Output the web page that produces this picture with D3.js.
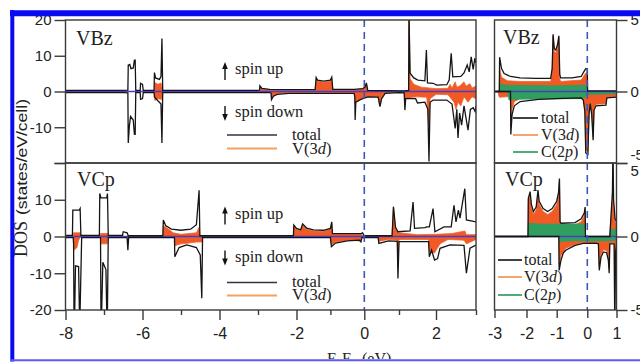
<!DOCTYPE html>
<html>
<head>
<meta charset="utf-8">
<script src="https://cdn.jsdelivr.net/npm/d3@7"></script>
<style>
  body { margin: 0; background: #fff; }
  svg { display: block; }
</style>
</head>
<body>
<svg id="chart" width="640" height="363"></svg>
<script>
// ---- DOS data, [E - EF (eV), states/eV/cell] ----
// full range panels (-8 .. 3 eV)
const bzTotUp = [[-8,0.3],[-6.5,0.3],[-6.38,0.4],[-6.37,7.4],[-6.33,7.6],[-6.3,6.4],[-6.24,6.6],[-6.21,8.8],[-6.19,8.8],[-6.175,0.3],
  [-6.06,0.3],[-6.05,2.3],[-6.0,2.0],[-5.98,0.3],[-5.7,0.3],[-5.69,5.3],[-5.66,3.8],[-5.56,3.4],[-5.52,4.2],[-5.495,14.8],[-5.475,0.3],
  [-3.0,0.3],[-2.96,0.4],[-2.95,1.6],[-2.9,0.9],[-2.7,0.6],[-2.3,0.5],[-1.45,0.5],[-1.42,3.9],[-1.38,3.2],[-1.2,2.9],[-1.0,3.2],[-0.96,4.0],
  [-0.93,0.6],[-0.3,0.6],[-0.05,0.8],[0.02,1.2],[0.06,2.4],[0.1,0.3],[1.15,0.2],[1.26,0.3],[1.27,22],[1.3,5.1],[1.4,3.8],[1.51,3.2],[1.7,3.0],
  [1.74,11.6],[1.77,2.4],[1.92,2.3],[2.02,1.8],[2.27,1.9],[2.33,3.2],[2.38,10.7],[2.42,4.1],[2.62,4.2],[2.7,5.2],[2.78,7.4],[2.83,5.5],
  [2.88,9.7],[2.93,6.2],[2.97,9.3],[3,8]];
const bzTotDn = [[-8,-0.3],[-6.5,-0.3],[-6.38,-0.4],[-6.37,-14.4],[-6.34,-9.5],[-6.31,-7],[-6.24,-8],[-6.21,-12],[-6.19,-12],[-6.175,-0.3],
  [-6.06,-0.3],[-6.05,-2.2],[-6.0,-2.0],[-5.98,-0.3],[-5.7,-0.3],[-5.69,-1.5],[-5.6,-2.6],[-5.52,-3.5],[-5.495,-14.4],[-5.475,-0.3],
  [-2.7,-0.3],[-2.66,-0.4],[-2.65,-2.3],[-2.6,-1.3],[-2.5,-0.8],[-2.2,-0.5],[-0.3,-0.5],[-0.28,-1.5],[-0.27,-8],[-0.25,-3.0],[-0.1,-2.2],
  [0.1,-1.5],[0.4,-1.6],[0.45,-4.2],[0.5,-2.0],[0.6,-0.5],[1.0,-0.3],[1.14,-0.4],[1.16,-5.2],[1.18,-2.0],[1.3,-1.9],[1.45,-2.0],[1.5,-3.2],
  [1.7,-3.0],[1.78,-5],[1.81,-19.6],[1.84,-3],[1.92,-2.4],[2.27,-2.4],[2.4,-3.5],[2.48,-10.3],[2.52,-5],[2.55,-13],[2.59,-6],[2.64,-9.4],
  [2.7,-4],[2.8,-10.8],[2.86,-5],[2.93,-4.5],[2.98,-5.6],[3,-4]];
const bzVdUp = [[-8,0],[-5.69,0],[-5.68,2.5],[-5.6,2.0],[-5.52,2.4],[-5.49,1.0],[-5.475,0],[-2.96,0],[-2.95,1.3],[-2.9,0.7],[-2.7,0.4],
  [-2.3,0.3],[-1.45,0.3],[-1.42,3.6],[-1.38,2.9],[-1.2,2.6],[-1.0,2.9],[-0.96,3.7],[-0.93,0.4],[-0.3,0.4],[0.02,0.9],[0.06,2.2],[0.1,0],
  [1.15,0],[1.26,0.2],[1.27,22],[1.3,3.6],[1.4,2.0],[1.6,1.2],[2.0,0.8],[2.3,0.9],[2.35,2.0],[2.4,1.0],[2.48,2.7],[2.52,1.2],[2.6,1.6],
  [2.7,2.7],[2.75,1.5],[2.85,2.2],[2.9,1.0],[3,1.5]];
const bzVdDn = [[-8,0],[-5.69,0],[-5.68,-2.5],[-5.6,-2.0],[-5.5,-2.2],[-5.475,0],[-2.66,0],[-2.65,-2.0],[-2.6,-1.1],[-2.5,-0.6],[-2.2,-0.3],
  [-0.3,-0.3],[-0.28,-1.2],[-0.27,-3.5],[-0.25,-2.8],[-0.1,-2.0],[0.1,-1.4],[0.4,-1.5],[0.45,-4.0],[0.5,-1.8],[0.6,-0.3],[1.0,-0.2],
  [1.14,-0.2],[1.16,-2.0],[1.3,-1.6],[1.5,-1.5],[1.75,-1.6],[1.8,-9.4],[1.84,-2],[2.0,-0.8],[2.3,-0.9],[2.45,-3],[2.5,-5],[2.55,-3],
  [2.62,-4],[2.7,-1.5],[2.8,-3],[2.9,-1.5],[3,-2]];

const cpTotUp = [[-8,0.3],[-7.82,0.3],[-7.81,7.2],[-7.64,7.2],[-7.62,7.6],[-7.6,0.3],[-7.12,0.3],[-7.11,11.7],[-7.08,10.5],[-6.93,10.5],
  [-6.91,11.7],[-6.89,0.3],[-6.52,0.3],[-6.5,1.3],[-6.4,1.0],[-6.37,0.2],[-5.47,0.2],[-5.46,4.5],[-5.4,3.0],[-5.25,2.0],[-5.0,1.7],
  [-4.75,2.0],[-4.6,3.2],[-4.53,12.6],[-4.51,0.2],[-2.08,0.2],[-2.07,3.1],[-2.0,2.2],[-1.88,1.8],[-1.82,3.4],[-1.7,2.3],[-1.5,1.8],
  [-1.2,1.7],[-1.0,2.2],[-0.96,4.0],[-0.94,0.8],[-0.1,0.8],[-0.05,1.0],[0,0.2],[0.8,0.2],[0.84,8.1],[0.9,2.5],[0.97,1.3],[1.3,1.5],
  [1.38,9.4],[1.42,2.2],[1.7,2.4],[1.75,2.6],[1.82,2.6],[1.92,7.6],[1.97,1.3],[2.2,2.6],[2.38,2.6],[2.45,8.5],[2.5,4],[2.56,7.2],
  [2.6,5],[2.72,13],[2.76,4.5],[3,4]];
const cpTotDn = [[-8,-0.3],[-7.8,-0.3],[-7.79,-2],[-7.78,-20],[-7.76,-20],[-7.74,-8],[-7.66,-8.2],[-7.64,-20],[-7.62,-20],[-7.6,-10],
  [-7.58,-0.3],[-7.09,-0.3],[-7.08,-20],[-7.06,-20],[-7.03,-7],[-6.95,-9],[-6.93,-20],[-6.91,-20],[-6.89,-0.3],[-6.4,-0.3],[-6.38,-3.7],
  [-6.36,-0.3],[-5.17,-0.3],[-5.16,-5.5],[-5.05,-3.0],[-4.85,-2.3],[-4.6,-3.0],[-4.5,-5],[-4.46,-16.8],[-4.44,-0.3],[-1.0,-0.3],
  [-0.97,-2.8],[-0.85,-1.8],[-0.5,-1.2],[-0.15,-1.0],[-0.1,-1.5],[-0.07,-0.3],[0.4,-0.3],[0.42,-1.9],[0.7,-1.2],[0.95,-1.3],[0.97,-11.4],
  [1.0,-1.4],[1.8,-1.4],[1.82,-5.5],[1.88,-3.7],[1.96,-6.4],[2.04,-6],[2.1,-3.2],[2.35,-2.3],[2.7,-2.4],[2.76,-10],[2.85,-3.2],[3,-2.3]];
const cpVdUp = [[-8,0],[-7.8,0],[-7.79,1.0],[-7.62,1.0],[-7.6,0],[-7.1,0],[-7.09,0.8],[-6.9,0.8],[-6.89,0],[-5.47,0],[-5.46,3.0],
  [-5.35,2.2],[-5.2,1.0],[-5.0,0.6],[-4.6,1.0],[-4.53,2.5],[-4.51,0],[-2.08,0],[-2.07,2.7],[-2.0,1.9],[-1.88,1.5],[-1.82,3.0],[-1.7,2.0],
  [-1.5,1.5],[-1.2,1.4],[-1.0,1.9],[-0.96,3.5],[-0.94,0.6],[-0.1,0.6],[0,0],[0.8,0],[0.84,8.1],[0.9,2.0],[1.0,1.0],[1.5,0.5],[2.0,0.6],
  [2.4,0.8],[2.72,1.5],[2.76,0.5],[3,0.5]];
const cpVdDn = [[-8,0],[-7.79,0],[-7.78,-3.7],[-7.7,-3.0],[-7.66,-1],[-7.6,0],[-7.08,0],[-7.07,-2],[-6.92,-2],[-6.89,0],[-5.17,0],
  [-5.16,-2.5],[-5.0,-2.0],[-4.8,-1.8],[-4.6,-1.5],[-4.46,-1.5],[-4.44,0],[-1.0,0],[-0.97,-2.3],[-0.85,-1.5],[-0.5,-1.0],[-0.1,-1.2],
  [-0.07,0],[0.4,0],[0.42,-1.3],[0.7,-0.8],[0.95,-1.0],[0.97,-8],[1.0,-0.8],[1.8,-0.8],[1.82,-4],[1.96,-4.5],[2.1,-2],[2.3,-0.8],
  [2.7,-1],[2.76,-2],[3,-0.8]];

// close-up panels (-3 .. 1 eV)
const zbzTotUp = [[-3,0],[-2.85,0],[-2.84,2.4],[-2.78,1.6],[-2.7,1.25],[-2.5,1.05],[-2.2,0.95],[-1.7,0.92],[-1.2,0.92],[-1.15,1.6],
  [-1.12,4.0],[-1.08,3.0],[-1.03,2.9],[-0.97,3.3],[-0.93,3.9],[-0.9,1.2],[-0.87,0.95],[-0.5,0.95],[-0.2,1.05],[-0.12,1.35],
  [-0.05,1.6],[0.0,1.6],[0.01,0.05],[1,0.05]];
const zbzTotDn = [[-3,0],[-2.5,0],[-2.49,-3.0],[-2.45,-1.6],[-2.38,-1.0],[-2.2,-0.7],[-1.6,-0.55],[-0.8,-0.48],[-0.2,-0.45],[-0.13,-0.6],
  [-0.08,-1.4],[-0.05,-4.3],[0.02,-4.4],[0.06,-1.6],[0.1,-0.85],[0.15,-1.6],[0.2,-3.4],[0.23,-1.3],[0.3,-1.0],[0.64,-0.95],[0.67,-0.45],[1,-0.4]];
const zbzVdUp = [[-3,0],[-2.85,0],[-2.84,1.6],[-2.78,1.0],[-2.6,0.75],[-2.2,0.7],[-1.2,0.7],[-1.15,1.4],[-1.12,3.9],[-1.08,2.8],
  [-1.03,2.7],[-0.97,3.1],[-0.93,3.8],[-0.9,0.9],[-0.87,0.7],[-0.2,0.8],[-0.05,1.3],[0,1.3],[0.01,0],[1,0]];
const zbzVdDn = [[-3,0],[-2.9,0],[-2.85,-0.4],[-2.5,-0.35],[-2.49,-2.5],[-2.45,-1.2],[-2.38,-0.7],[-2.2,-0.5],[-1.6,-0.45],[-0.2,-0.4],
  [-0.13,-0.55],[-0.08,-1.3],[-0.05,-4.1],[0.02,-4.2],[0.06,-1.4],[0.1,-0.75],[0.15,-1.4],[0.2,-3.2],[0.23,-1.2],[0.3,-0.9],
  [0.64,-0.85],[0.67,-0.4],[1,-0.35]];
const zbzCpUp = [[-3,0],[-2.85,0],[-2.84,0.6],[-2.7,0.45],[-1.0,0.4],[-0.1,0.45],[0,0.4],[0.01,0],[1,0]];
const zbzCpDn = [[-3,0],[-2.6,0],[-2.55,-0.6],[-2.3,-0.55],[-0.2,-0.5],[-0.1,-0.45],[0,-0.2],[0.3,-0.2],[1,-0.15]];

const zcpTotUp = [[-3,0],[-1.95,0],[-1.94,2.6],[-1.88,3.05],[-1.84,2.2],[-1.77,1.7],[-1.68,2.0],[-1.62,3.15],[-1.58,2.4],[-1.45,1.9],
  [-1.3,1.7],[-1.15,1.9],[-1.0,2.4],[-0.94,3.0],[-0.91,3.95],[-0.89,1.0],[-0.86,0.9],[-0.4,0.95],[-0.2,1.2],[-0.1,1.6],[-0.07,2.0],
  [-0.06,0],[0.77,0],[0.8,1.0],[0.86,3],[0.88,6],[0.9,2.5],[0.95,1.2],[1,1]];
const zcpTotDn = [[-3,0],[-0.93,0],[-0.92,-2.3],[-0.86,-1.6],[-0.78,-1.1],[-0.69,-0.92],[-0.4,-0.6],[-0.13,-0.47],[0.3,-0.45],[0.38,-0.5],
  [0.41,-2.3],[0.47,-1.4],[0.55,-1.05],[0.66,-1.1],[0.72,-1.6],[0.75,-2.5],[0.77,-0.5],[0.92,-0.5],[0.94,-6],[0.97,-1],[1,-0.6]];
const zcpVdUp = [[-3,0],[-1.95,0],[-1.94,2.4],[-1.88,2.9],[-1.84,2.0],[-1.77,1.5],[-1.68,1.8],[-1.62,3.0],[-1.58,2.2],[-1.45,1.7],
  [-1.3,1.5],[-1.15,1.7],[-1.0,2.2],[-0.94,2.8],[-0.91,3.8],[-0.89,0.8],[-0.86,0.75],[-0.4,0.8],[-0.2,1.0],[-0.1,1.4],[-0.07,1.9],
  [-0.06,0],[0.77,0],[0.8,0.9],[0.86,2.5],[0.88,6],[0.9,2],[0.95,1],[1,0.9]];
const zcpVdDn = [[-3,0],[-0.93,0],[-0.92,-1.9],[-0.86,-1.3],[-0.7,-0.8],[-0.4,-0.55],[-0.13,-0.42],[0.3,-0.4],[0.38,-0.45],[0.41,-2.0],
  [0.47,-1.2],[0.55,-0.9],[0.66,-0.95],[0.72,-1.4],[0.75,-2.2],[0.77,-0.45],[0.92,-0.45],[0.94,-6],[0.97,-0.8],[1,-0.5]];
const zcpCpUp = [[-3,0],[-1.95,0],[-1.94,0.9],[-1.5,0.85],[-0.5,0.85],[-0.1,0.85],[-0.06,0],[0.77,0],[0.8,0.5],[1,0.5]];
const zcpCpDn = [[-3,0],[-0.93,0],[-0.92,-0.35],[-0.5,-0.3],[0.8,-0.3],[1,-0.25]];

// ticks
const xMajorL = [-8, -6, -4, -2, 0, 2];
const xMinorL = [-7, -5, -3, -1, 1, 3];
const xTicksR = [-3, -2, -1, 0, 1];
const yTicksL = [20, 10, 0, -10, -20];
const yTicksR = [5, 0, -5];

const serif = "'Liberation Serif', 'Times New Roman', serif";
const sans = "'Liberation Sans', Arial, sans-serif";
const orange = "#f15a24", green = "#2f9e5e";

const svg = d3.select("#chart");

// scales (the printed axis is slightly uneven, so piecewise)
const xL = d3.scaleLinear().domain([-8, -2, 0, 1, 2, 3]).range([65.5, 296.5, 364.3, 399, 436, 476]);
const xR = d3.scaleLinear().domain([-3, -2, -1, 0, 1]).range([494.5, 526.5, 556.7, 587.3, 616.5]);
const yTL = d3.scaleLinear().domain([-20, 20]).range([163, 20]);
const yBL = d3.scaleLinear().domain([-20, 20]).range([310, 163]);
const yTR = d3.scaleLinear().domain([-5, 5]).range([163, 20]);
const yBR = d3.scaleLinear().domain([-5, 5]).range([310, 163]);

function panel(name, x, y, s) {
  const xr = x.range(), x0 = xr[0], x1 = xr[xr.length - 1];
  const [yb, yt] = y.range();
  svg.append("clipPath").attr("id", "clip-" + name)
    .append("rect").attr("x", x0).attr("y", yt).attr("width", x1 - x0).attr("height", yb - yt);
  const g = svg.append("g").attr("clip-path", "url(#clip-" + name + ")");
  const area = d3.area().x(d => x(d[0])).y0(y(0)).y1(d => y(d[1]));
  const line = d3.line().x(d => x(d[0])).y(d => y(d[1]));

  [s.vdUp, s.vdDn].forEach(d => g.append("path").datum(d).attr("d", area)
    .attr("fill", orange).attr("stroke", "#ee6630").attr("stroke-width", 0.8));
  if (s.cpUp) [s.cpUp, s.cpDn].forEach(d => g.append("path").datum(d).attr("d", area)
    .attr("fill", green).attr("stroke", green).attr("stroke-width", 0.6));

  g.append("line").attr("x1", x0).attr("x2", x1).attr("y1", y(0)).attr("y2", y(0))
    .attr("stroke", "#4a3cc6").attr("stroke-width", 1.6);

  [s.totUp, s.totDn].forEach(d => g.append("path").datum(d).attr("d", line)
    .attr("fill", "none").attr("stroke", "#151515").attr("stroke-width", 1.3));

  g.append("line").attr("x1", x(0)).attr("x2", x(0)).attr("y1", yt).attr("y2", yb)
    .attr("stroke", "#3a58b8").attr("stroke-width", 1.6).attr("stroke-dasharray", "7,5");

  svg.append("rect").attr("x", x0).attr("y", yt).attr("width", x1 - x0).attr("height", yb - yt)
    .attr("fill", "none").attr("stroke", "#3a3a3a").attr("stroke-width", 1.4);
}

panel("bzL", xL, yTL, {totUp: bzTotUp, totDn: bzTotDn, vdUp: bzVdUp, vdDn: bzVdDn});
panel("cpL", xL, yBL, {totUp: cpTotUp, totDn: cpTotDn, vdUp: cpVdUp, vdDn: cpVdDn});
panel("bzR", xR, yTR, {totUp: zbzTotUp, totDn: zbzTotDn, vdUp: zbzVdUp, vdDn: zbzVdDn, cpUp: zbzCpUp, cpDn: zbzCpDn});
panel("cpR", xR, yBR, {totUp: zcpTotUp, totDn: zcpTotDn, vdUp: zcpVdUp, vdDn: zcpVdDn, cpUp: zcpCpUp, cpDn: zcpCpDn});

// axes
function styleAxis(g, size) {
  g.select(".domain").remove();
  g.selectAll(".tick line").attr("stroke", "#3a3a3a").attr("stroke-width", 1.4);
  g.selectAll(".tick text").attr("fill", "#222").attr("font-family", sans).attr("font-size", size);
}
const label = skip => d => (skip.includes(d) ? "" : String(d));

svg.append("g").attr("transform", "translate(65.5,0)")
  .call(d3.axisLeft(yTL).tickValues(yTicksL).tickSize(11).tickPadding(3).tickFormat(label([-20])))
  .call(g => styleAxis(g, 15));
svg.append("g").attr("transform", "translate(65.5,0)")
  .call(d3.axisLeft(yBL).tickValues(yTicksL).tickSize(11).tickPadding(3).tickFormat(label([20])))
  .call(g => styleAxis(g, 15));

svg.append("g").attr("transform", "translate(0,310)")
  .call(d3.axisBottom(xL).tickValues(xMajorL).tickSize(10).tickPadding(8).tickFormat(label([])))
  .call(g => styleAxis(g, 16));
svg.append("g").attr("transform", "translate(0,310)")
  .call(d3.axisBottom(xL).tickValues(xMinorL).tickSize(5).tickFormat(""))
  .call(g => styleAxis(g, 16));
svg.append("g").attr("transform", "translate(0,310)")
  .call(d3.axisBottom(xR).tickValues(xTicksR).tickSize(8).tickPadding(10).tickFormat(label([])))
  .call(g => styleAxis(g, 16));

svg.append("g").attr("transform", "translate(616.5,0)")
  .call(d3.axisRight(yTR).tickValues(yTicksR).tickSize(11).tickPadding(3).tickFormat(label([])))
  .call(g => styleAxis(g, 15))
  .call(g => g.selectAll(".tick text").filter(d => d === -5).attr("dy", "-0.25em"));
svg.append("g").attr("transform", "translate(616.5,0)")
  .call(d3.axisRight(yBR).tickValues(yTicksR).tickSize(11).tickPadding(3).tickFormat(label([])))
  .call(g => styleAxis(g, 15))
  .call(g => g.selectAll(".tick text").filter(d => d === 5).attr("dy", "0.85em"));

// axis titles
svg.append("text").attr("transform", "translate(27,257) rotate(-90)")
  .attr("font-family", serif).attr("font-size", 18).attr("fill", "#222").text("DOS");
svg.append("text").attr("transform", "translate(27,215) rotate(-90)")
  .attr("font-family", sans).attr("font-size", 15).attr("fill", "#222")
  .attr("textLength", 116).attr("lengthAdjust", "spacingAndGlyphs").text("(states/eV/cell)");

svg.append("clipPath").attr("id", "clip-xt").append("rect").attr("x", 0).attr("y", 0).attr("width", 640).attr("height", 359);
const xt = svg.append("text").attr("clip-path", "url(#clip-xt)").attr("x", 327).attr("y", 364)
  .attr("font-family", serif).attr("font-size", 16).attr("fill", "#222");
xt.append("tspan").text("E-E");
xt.append("tspan").attr("font-size", 11).attr("dy", 3).text("F");
xt.append("tspan").attr("dy", -3).text(" (eV)");

// panel names
[["VBz", 76, 45], ["VCp", 77, 186], ["VBz", 503, 44], ["VCp", 505, 186]].forEach(([t, x, y]) =>
  svg.append("text").attr("x", x).attr("y", y).attr("font-family", serif).attr("font-size", 20)
    .attr("fill", "#222").text(t));

// spin arrows and labels (left panels)
function arrow(x, tail, tip) {
  const dir = tip < tail ? 1 : -1;
  svg.append("line").attr("x1", x).attr("x2", x).attr("y1", tail).attr("y2", tip + dir * 5)
    .attr("stroke", "#111").attr("stroke-width", 1.4);
  svg.append("path").attr("d", `M${x},${tip}L${x - 2.8},${tip + dir * 7}L${x + 2.8},${tip + dir * 7}Z`).attr("fill", "#111");
}
function txt(x, y, parts, size) {
  const t = svg.append("text").attr("x", x).attr("y", y).attr("font-family", serif)
    .attr("font-size", size).attr("fill", "#222");
  parts.forEach(p => t.append("tspan").attr("font-style", p[1] ? "italic" : null).text(p[0]));
}
[[0, 0], [1, 144.5]].forEach(([i, dy]) => {
  arrow(225, 80 + dy, 62 + dy);
  txt(235, 74 + dy, [["spin up"]], 16.5);
  arrow(225, 106 + dy, 121 + dy);
  txt(235, 117 + dy, [["spin down"]], 16.5);
});
[[135, 140, 148.5, 154], [282.5, 287, 295.5, 300]].forEach(([l1, t1, l2, t2]) => {
  svg.append("line").attr("x1", 227).attr("x2", 277).attr("y1", l1).attr("y2", l1).attr("stroke", "#2d3440").attr("stroke-width", 1.5);
  txt(292, t1, [["total"]], 16.5);
  svg.append("line").attr("x1", 227).attr("x2", 277).attr("y1", l2).attr("y2", l2).attr("stroke", "#f6a060").attr("stroke-width", 1.8);
  txt(292, t2, [["V(3"], ["d", true], [")"]], 16.5);
});

// legends (close-up panels)
[[513, 538, 541, [118, 135, 152]], [498, 522, 524, [260, 277, 295]]].forEach(([a, b, tx, ys]) => {
  const items = [["#2b2b2b", [["total"]]], ["#f39a5c", [["V(3"], ["d", true], [")"]]], ["#3aa56a", [["C(2"], ["p", true], [")"]]]];
  items.forEach(([c, parts], i) => {
    svg.append("line").attr("x1", a).attr("x2", b).attr("y1", ys[i]).attr("y2", ys[i]).attr("stroke", c).attr("stroke-width", 1.8);
    txt(tx, ys[i] + 5, parts, 16);
  });
});

// blue outer frame
svg.append("line").attr("x1", 10).attr("x2", 640).attr("y1", 13.3).attr("y2", 13.3).attr("stroke", "#0a0af2").attr("stroke-width", 6);
svg.append("line").attr("x1", 12.3).attr("x2", 12.3).attr("y1", 10).attr("y2", 361.5).attr("stroke", "#0a0af2").attr("stroke-width", 4);
svg.append("line").attr("x1", 10).attr("x2", 640).attr("y1", 360.3).attr("y2", 360.3).attr("stroke", "#5b5bf6").attr("stroke-width", 2);
</script>
</body>
</html>
